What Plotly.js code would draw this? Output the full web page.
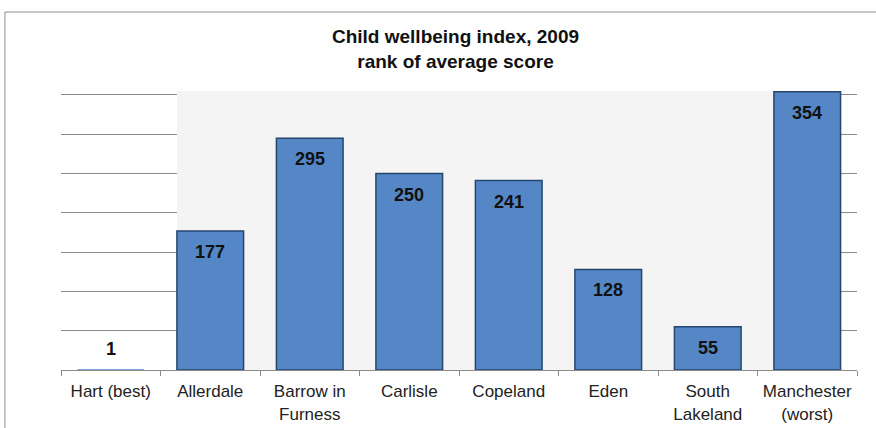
<!DOCTYPE html>
<html>
<head>
<meta charset="utf-8">
<script src="https://cdn.plot.ly/plotly-3.0.1.min.js"></script>
<style>
html,body{margin:0;padding:0;background:#fff;}
#chart{width:876px;height:428px;}
</style>
</head>
<body>
<div id="chart"></div>
<script>
var categories = ["Hart (best)", "Allerdale", "Barrow in<br>Furness", "Carlisle", "Copeland", "Eden", "South<br>Lakeland", "Manchester<br>(worst)"];
var ranks = [1, 177, 295, 250, 241, 128, 55, 354];
var labels = ["1", "177", "295", "250", "241", "128", "55", "354"];
var gridVals = [0, 50, 100, 150, 200, 250, 300, 350];

var trace = {
  type: "bar",
  x: categories,
  y: ranks,
  width: 0.67,
  marker: {color: "#5587C6",
           line: {color: "#24466F", width: ranks.map(function(v){ return v < 5 ? 0 : 1.5; })}},
  hoverinfo: "none"
};

var annotations = categories.map(function(c, i){
  return {x: c, y: ranks[i], xref: "x", yref: "y", text: "<b>" + labels[i] + "</b>", showarrow: false,
          yshift: ranks[i] < 20 ? 20 : -21,
          font: {family: "Liberation Sans, Arial, sans-serif", size: 18, color: "#111"}};
});

var layout = {
  width: 876, height: 428,
  margin: {l: 61, r: 19, t: 91, b: 58},
  paper_bgcolor: "#ffffff",
  plot_bgcolor: "#ffffff",
  showlegend: false,
  title: {text: "<b>Child wellbeing index, 2009<br>rank of average score</b>",
          x: 0.52, xref: "container", y: 0.90, yanchor: "top",
          font: {family: "Liberation Sans, Arial, sans-serif", size: 19, color: "#111"}},
  xaxis: {type: "category", showline: true, linecolor: "#8a8a8a", linewidth: 1,
          ticks: "outside", tickson: "boundaries", ticklen: 5, tickcolor: "#8a8a8a",
          ticklabelstandoff: 6,
          tickfont: {family: "Liberation Sans, Arial, sans-serif", size: 17, color: "#222"},
          showgrid: false, zeroline: false, fixedrange: true},
  yaxis: {range: [0, 355], tickvals: gridVals, showticklabels: false, ticks: "",
          showgrid: true, gridcolor: "#8a8a8a", gridwidth: 1, zeroline: false, showline: false,
          fixedrange: true},
  shapes: [
    {type: "rect", xref: "x", yref: "y", x0: 0.665, x1: 7.335, y0: 0, y1: 356,
     fillcolor: "#F4F4F4", line: {width: 0}, layer: "between"},
    {type: "rect", xref: "paper", yref: "paper", x0: -0.0704, x1: 1.2, y0: -0.5, y1: 1.283,
     fillcolor: "rgba(0,0,0,0)", line: {color: "#8f8f8f", width: 1}, layer: "below"}
  ],
  annotations: annotations,
  bargap: 0.33
};

Plotly.newPlot("chart", [trace], layout, {displayModeBar: false, staticPlot: true});
</script>
</body>
</html>
